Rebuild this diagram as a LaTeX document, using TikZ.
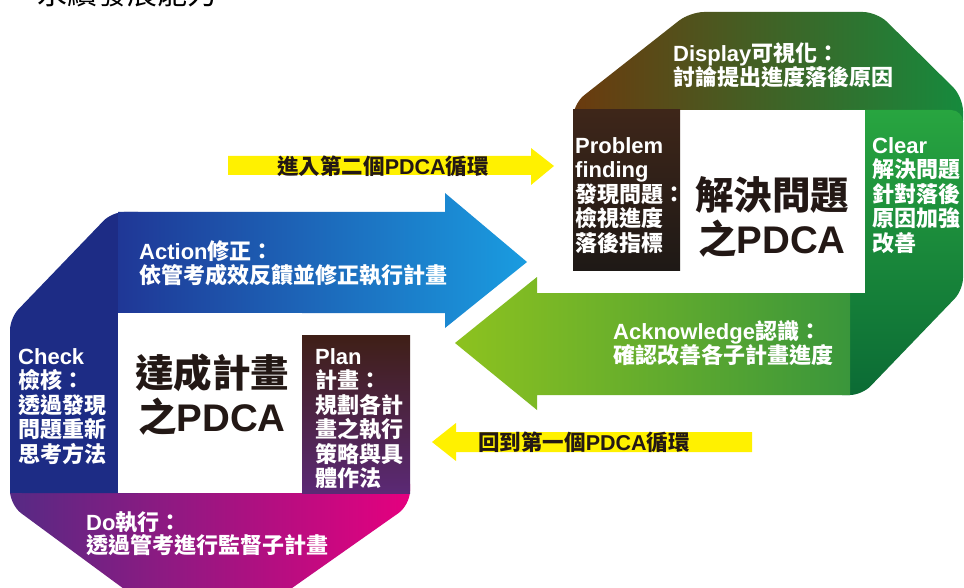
\documentclass[tikz,border=0pt]{standalone}
\usepackage{fontspec}
\setmainfont{Liberation Sans}
\newfontfamily\cjkfont{Noto Sans CJK TC}
\newfontfamily\latfont{Liberation Sans}
\newcommand\latw[1]{{\latfont\bfseries #1}}
\definecolor{cNavy}{HTML}{1D2C85}
\definecolor{cBlueL}{HTML}{1F3796}
\definecolor{cBlueR}{HTML}{1A9CE0}
\definecolor{cPurL}{HTML}{562A84}
\definecolor{cPurR}{HTML}{E5007F}
\definecolor{cPlanT}{HTML}{3F1F16}
\definecolor{cPlanB}{HTML}{5B2975}
\definecolor{cBrL}{HTML}{6B3A0E}
\definecolor{cBrM}{HTML}{573F15}
\definecolor{cBrR}{HTML}{168A3D}
\definecolor{cClT}{HTML}{28A540}
\definecolor{cClB}{HTML}{0B6B35}
\definecolor{cGrL}{HTML}{8DC21F}
\definecolor{cGrR}{HTML}{3A963B}
\definecolor{cPrT}{HTML}{3E2619}
\definecolor{cPrB}{HTML}{1E1916}
\definecolor{cYellow}{HTML}{FFF100}
\definecolor{cDark}{HTML}{231815}
\tikzset{
  lbl/.style={anchor=north west, inner sep=0pt, align=left, text=white,
    font=\cjkfont\bfseries\fontsize{22}{24.5}\selectfont},
  bigtxt/.style={anchor=north, inner sep=0pt, align=center, text=cDark,
    font=\cjkfont\bfseries\fontsize{38.5}{44}\selectfont},
  ytext/.style={inner sep=0pt, text=cDark,
    font=\cjkfont\bfseries\fontsize{21.5}{22}\selectfont},
}
\begin{document}
\begin{tikzpicture}[x=1pt,y=-1pt]
\useasboundingbox (0,0) rectangle (964,588);
\clip (0,0) rectangle (964,588);
\fill[white] (0,0) rectangle (964,588);

% heading (cut off at top, as in the reference)
\node[anchor=base west, inner sep=0pt, text=black,
  font=\cjkfont\fontsize{30}{30}\selectfont] (title) at (37,5) {永續發展能力};

% ---------- left block ----------
\shade[left color=cPurL, right color=cPurR, rounded corners=14pt]
  (10,470) -- (410,470) -- (410,505) -- (275,600) -- (139,600) -- (10,505) -- cycle;
\fill[cNavy, rounded corners=12pt]
  (150,212) -- (112,212) -- (10,318) -- (10,493) -- (150,493) -- cycle;
\fill[cNavy] (10,400) rectangle (118,493);
\shade[left color=cBlueL, right color=cBlueR]
  (118,212) -- (445,212) -- (445,193) -- (527,262) -- (445,328) -- (445,313) -- (118,313) -- cycle;
\fill[white] (118,313) rectangle (302,493);
\shade[top color=cPlanT, bottom color=cPlanB] (302,335) rectangle (410,493);

% ---------- right block ----------
\shade[left color=cBrL, middle color=cBrM, right color=cBrR, rounded corners=14pt]
  (573,135) -- (573,104) -- (690,12) -- (877,12) -- (963,97) -- (963,135) -- cycle;
\shade[top color=cClT, bottom color=cClB, rounded corners=12pt]
  (830,110) -- (963,110) -- (963,290) -- (862,395) -- (830,395) -- cycle;
\shade[left color=cGrL, right color=cGrR]
  (850,293) -- (537,293) -- (537,277) -- (455,343) -- (537,410) -- (537,395) -- (850,395) -- cycle;
\fill[white] (680,110) rectangle (865,293);
\shade[top color=cPrT, bottom color=cPrB] (573,110) rectangle (680,270);

% ---------- yellow arrows ----------
\fill[cYellow] (228,156) -- (531,156) -- (531,148) -- (554,166) -- (531,185) -- (531,175) -- (228,175) -- cycle;
\fill[cYellow] (752,432) -- (456,432) -- (456,423) -- (432,442) -- (456,461) -- (456,452) -- (752,452) -- cycle;
\node[ytext] (enter) at (383,166) {進入第二個\latw{PDCA}循環};
\node[ytext] (back) at (584,442) {回到第一個\latw{PDCA}循環};

% ---------- labels ----------
\node[lbl] (action) at (139,240) {\latw{Action}修正：\\依管考成效反饋並修正執行計畫};
\node[lbl] (check) at (18,348) {\latw{Check}\\檢核：\\透過發現\\問題重新\\思考方法};
\node[lbl] (plan) at (315,348) {\latw{Plan}\\計畫：\\規劃各計\\畫之執行\\策略與具\\體作法};
\node[lbl, font=\cjkfont\bfseries\fontsize{22}{23.5}\selectfont] (do) at (86,511) {\latw{Do}執行：\\透過管考進行監督子計畫};
\node[bigtxt] (goal) at (212,354) {達成計畫\\之\latw{PDCA}};

\node[lbl, font=\cjkfont\bfseries\fontsize{22}{24}\selectfont] (display) at (673,43) {\latw{Display}可視化：\\討論提出進度落後原因};
\node[lbl] (problem) at (575,137) {\latw{Problem}\\\latw{finding}\\發現問題：\\檢視進度\\落後指標};
\node[lbl] (clear) at (872,137) {\latw{Clear}\\解決問題\\針對落後\\原因加強\\改善};
\node[lbl, font=\cjkfont\bfseries\fontsize{22}{24}\selectfont] (ack) at (613,320) {\latw{Acknowledge}認識：\\確認改善各子計畫進度};
\node[bigtxt] (solve) at (772,176) {解決問題\\之\latw{PDCA}};
\end{tikzpicture}
\end{document}
